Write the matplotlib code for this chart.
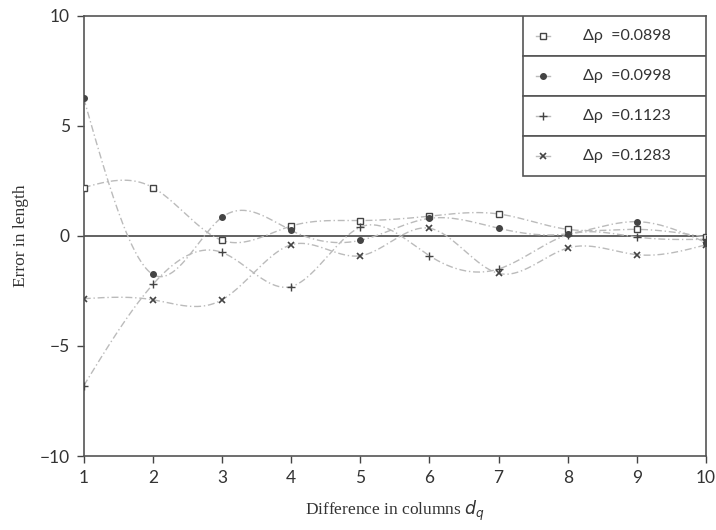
import numpy as np
import matplotlib
matplotlib.use("Agg")
from matplotlib import pyplot as plt

# data
x = [1, 2, 3, 4, 5, 6, 7, 8, 9, 10]
labels = ["0.0898", "0.0998", "0.1123", "0.1283"]
err_0898 = [2.2, 2.2, -0.2, 0.45, 0.7, 0.9, 1.0, 0.3, 0.3, -0.05]
err_0998 = [6.25, -1.75, 0.85, 0.25, -0.2, 0.8, 0.35, 0.1, 0.65, -0.3]
err_1123 = [-6.8, -2.2, -0.75, -2.3, 0.4, -0.9, -1.5, 0.05, -0.05, -0.15]
err_1283 = [-2.85, -2.9, -2.9, -0.4, -0.9, 0.35, -1.7, -0.55, -0.85, -0.4]


def natural_spline(xs, ys, n=400):
    # plain natural cubic spline, only used to draw the smooth curve through the points
    xs = np.asarray(xs, float)
    ys = np.asarray(ys, float)
    k = len(xs)
    h = np.diff(xs)
    A = np.zeros((k, k))
    b = np.zeros(k)
    A[0, 0] = 1
    A[-1, -1] = 1
    for i in range(1, k - 1):
        A[i, i - 1] = h[i - 1]
        A[i, i] = 2 * (h[i - 1] + h[i])
        A[i, i + 1] = h[i]
        b[i] = 6 * ((ys[i + 1] - ys[i]) / h[i] - (ys[i] - ys[i - 1]) / h[i - 1])
    M = np.linalg.solve(A, b)
    xx = np.linspace(xs[0], xs[-1], n)
    idx = np.clip(np.searchsorted(xs, xx) - 1, 0, k - 2)
    x0, x1 = xs[idx], xs[idx + 1]
    hh = x1 - x0
    a = (x1 - xx) / hh
    c = (xx - x0) / hh
    yy = (a * ys[idx] + c * ys[idx + 1]
          + ((a ** 3 - a) * M[idx] + (c ** 3 - c) * M[idx + 1]) * hh ** 2 / 6)
    return xx, yy


fig = plt.figure(figsize=(7.16, 5.3), dpi=100)
ax = fig.add_axes([0.117, 0.1396, 0.869, 0.8304])

series = [err_0898, err_0998, err_1123, err_1283]
markers = [
    dict(marker="s", ms=5, mfc="white", mec="#444444", mew=1.0),
    dict(marker="o", ms=4, mfc="#444444", mec="#444444"),
    dict(marker="+", ms=5.5, mec="#444444", mew=1.0),
    dict(marker="x", ms=5, mec="#444444", mew=1.2),
]

ax.axhline(0, color="#555555", lw=1.3, zorder=1)

for ys, mk in zip(series, markers):
    xx, yy = natural_spline(x, ys)
    ax.plot(xx, yy, color="#bbbbbb", lw=1.0, ls=(0, (5, 2, 1, 2)), zorder=2)
    ax.plot(x, ys, ls="none", zorder=3, **mk)

ax.set_xlim(1, 10)
ax.set_ylim(-10, 10)
ax.set_xticks(range(1, 11))
ax.set_yticks([-10, -5, 0, 5, 10])
ax.set_yticklabels(["\u221210", "\u22125", "0", "5", "10"])
ax.tick_params(direction="out", length=5, width=1, colors="#444444",
               labelsize=12.5, labelcolor="#333333", pad=5)
for lab in ax.get_xticklabels() + ax.get_yticklabels():
    lab.set_fontfamily("Lato")
for s in ax.spines.values():
    s.set_color("#555555")
    s.set_linewidth(1.2)

ax.set_xlabel("Difference in columns $d_{q}$", fontsize=12.5, family="Liberation Serif",
              color="#333333", labelpad=9)
ax.set_ylabel("Error in length", fontsize=12.5, family="Liberation Serif",
              color="#333333", labelpad=8)

# boxed legend table, one cell per row
top, left, row_h = 1.0, 0.706, 0.091
for i, (lab, mk) in enumerate(zip(labels, markers)):
    y0 = top - (i + 1) * row_h
    ax.add_patch(plt.Rectangle((left, y0), 1 - left, row_h, transform=ax.transAxes,
                               fill=True, fc="white", ec="#555555", lw=1.2, zorder=5))
    yc = y0 + row_h / 2
    ax.plot([0.727, 0.749], [yc, yc], color="#bbbbbb", lw=1.0,
            transform=ax.transAxes, zorder=6)
    ax.plot([0.738], [yc], ls="none", transform=ax.transAxes, zorder=7, **mk)
    ax.text(0.802, yc, "\u0394\u03c1  =" + lab, transform=ax.transAxes, va="center",
            ha="left", fontsize=11.5, family="Lato", color="#333333", zorder=7)

fig.savefig("out.png", dpi=100)
